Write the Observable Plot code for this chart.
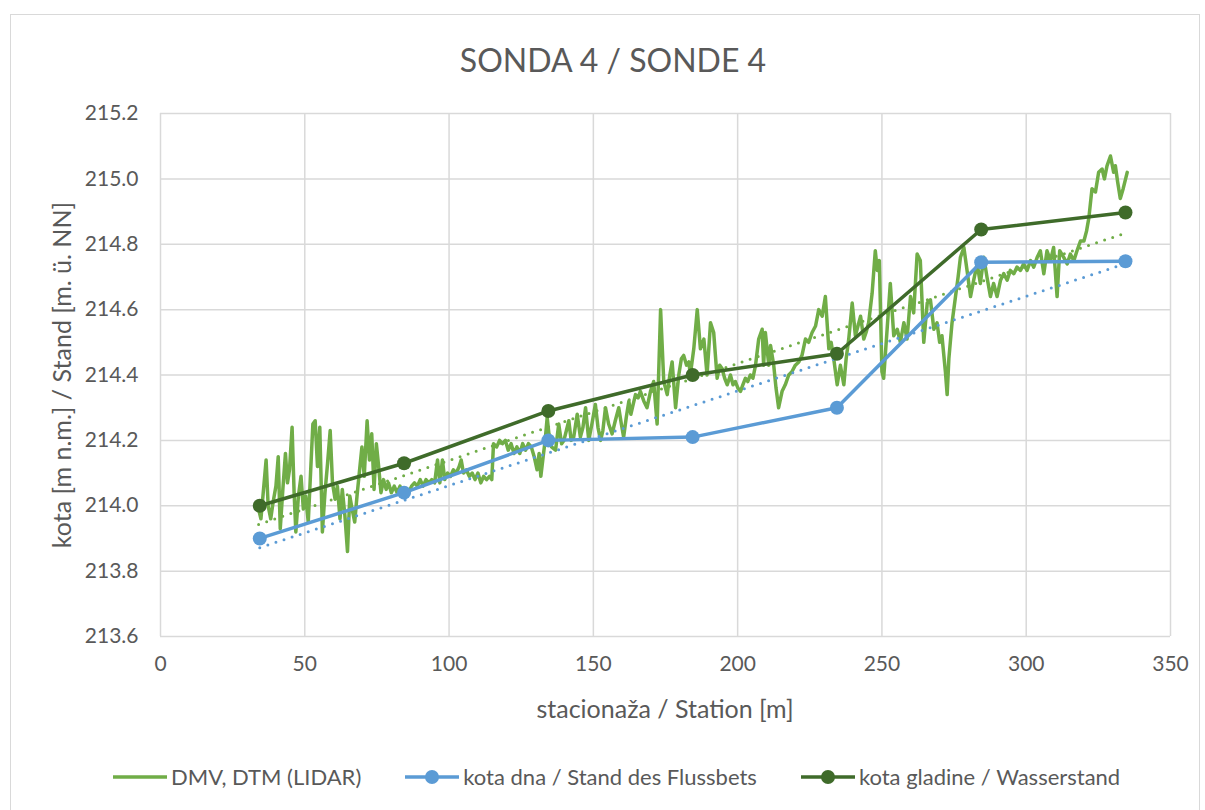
<!DOCTYPE html>
<html><head><meta charset="utf-8">
<script src="https://cdn.jsdelivr.net/npm/d3@7"></script>
<script src="https://cdn.jsdelivr.net/npm/@observablehq/plot@0.6"></script>
<style>
body{margin:0;background:#fff;font-family:Lato,"Open Sans",sans-serif;color:#595959;}
#wrap{position:relative;width:1205px;height:810px;overflow:hidden;background:#fff;}
#frame{position:absolute;left:10px;top:14px;width:1190px;height:830px;border:1.5px solid #d9d9d9;box-sizing:border-box;}
#chart{position:absolute;left:0;top:0;}
#title{position:absolute;top:60px;left:613px;transform:translate(-50%,-50%);white-space:nowrap;font-size:32px;line-height:1;color:#595959;}
#ylab{position:absolute;left:61px;top:375px;transform:translate(-50%,-50%) rotate(-90deg);white-space:nowrap;font-size:25px;line-height:1;color:#595959;}
#xlab{position:absolute;top:708px;left:665px;transform:translate(-50%,-50%);white-space:nowrap;font-size:25px;line-height:1;color:#595959;}
#legend{position:absolute;top:777px;left:113px;transform:translateY(-50%);display:flex;align-items:center;font-size:22px;line-height:1;color:#595959;white-space:nowrap;}
.item{display:flex;align-items:center;margin-right:44px;}
.item svg{margin-right:4px;}
</style>
</head><body>
<div id="wrap">
<div id="frame"></div>
<div id="chart"></div>
<div id="title">SONDA 4 / SONDE 4</div>
<div id="ylab">kota [m n.m.] / Stand [m. ü. NN]</div>
<div id="xlab">stacionaža / Station [m]</div>
<div id="legend"></div>
</div>
<script>
// Series names
const seriesNames = ["DMV, DTM (LIDAR)", "kota dna / Stand des Flussbets", "kota gladine / Wasserstand"];
const seriesColors = ["#70AD47", "#5B9BD5", "#3F6B2A"];

// Tick labels
const xTicks = [0, 50, 100, 150, 200, 250, 300, 350];
const yTicks = [213.6, 213.8, 214.0, 214.2, 214.4, 214.6, 214.8, 215.0, 215.2];

// DMV, DTM (LIDAR) profile
const dmvStation = [34.0,34.8,35.6,36.6,37.3,38.2,39.0,40.0,40.8,41.5,42.4,43.3,44.0,44.7,45.6,46.3,46.9,47.8,48.7,49.5,50.3,51.2,52.0,52.8,53.6,54.4,55.2,56.1,57.0,57.9,58.8,59.6,60.5,61.3,62.2,63.0,63.9,64.8,65.6,66.4,67.3,68.1,69.0,69.8,70.6,71.6,72.4,73.2,74.0,74.8,75.6,76.4,77.3,78.2,79.0,80.0,81.0,82.0,83.0,84.0,85.0,86.0,87.0,88.0,89.0,90.0,91.0,92.0,93.0,94.0,95.0,96.0,96.8,97.7,98.5,99.5,100.5,101.5,102.5,103.5,104.2,105.0,106.0,107.0,108.0,109.0,110.0,111.0,112.0,113.0,114.0,114.8,115.4,116.5,117.5,118.5,119.5,120.5,121.5,122.5,123.5,124.5,125.5,126.5,127.5,128.5,129.5,130.5,131.2,131.8,132.6,133.3,134.0,134.6,135.5,136.9,138.0,139.0,139.8,141.5,142.3,143.2,144.4,145.5,146.4,147.3,148.4,149.5,150.7,151.6,152.5,153.3,154.2,155.3,156.5,157.6,158.8,159.7,160.5,161.4,162.3,163.0,163.8,164.6,165.5,166.3,167.5,168.6,169.8,170.9,172.1,173.3,174.4,175.6,176.5,177.3,178.5,179.6,180.5,181.3,182.3,183.1,183.6,184.8,186.0,187.1,188.3,189.4,190.6,191.7,192.9,193.8,194.6,195.5,196.4,197.5,198.4,199.2,200.1,201.0,201.8,202.7,203.5,204.4,205.3,206.2,207.3,208.5,209.0,209.6,210.8,211.4,212.5,213.3,214.2,215.4,216.5,217.7,218.8,220.0,221.2,222.3,223.5,224.6,225.8,227.0,228.1,229.3,230.4,231.6,232.4,233.3,234.5,235.6,236.8,237.6,238.5,239.7,240.8,241.7,242.6,243.7,244.5,245.4,246.6,247.7,248.4,249.1,250.0,250.6,251.8,252.9,254.1,255.3,256.4,257.6,258.7,259.9,261.0,262.2,263.3,264.5,265.7,266.8,268.0,269.1,270.0,270.8,272.0,272.6,273.2,274.3,275.5,276.4,277.2,278.4,279.5,280.7,281.8,283.0,284.1,285.3,286.4,287.6,288.7,289.9,291.1,292.2,293.4,294.5,295.7,296.8,298.0,299.1,300.3,301.5,302.6,303.8,304.9,306.1,307.2,308.4,309.5,310.7,311.6,313.0,314.2,315.3,316.5,317.6,318.8,320.0,320.9,321.7,322.8,324.0,325.1,326.3,327.1,328.0,329.2,330.3,330.9,331.7,332.6,333.6,335.0];
const dmvElevation = [213.99,213.96,214.04,214.14,214.00,213.96,214.01,214.06,214.15,213.93,214.05,214.16,214.07,214.11,214.24,214.04,213.92,214.03,214.09,213.99,214.03,213.95,214.10,214.25,214.26,214.12,214.24,213.92,214.04,214.13,214.23,214.07,214.02,214.06,213.96,214.05,213.97,213.86,214.03,213.99,213.95,214.03,214.11,214.18,214.09,214.26,214.14,214.22,214.05,214.19,214.12,214.04,214.08,214.05,214.07,214.04,214.06,214.04,214.06,214.04,214.05,214.04,214.06,214.07,214.06,214.08,214.06,214.08,214.07,214.08,214.07,214.14,214.07,214.14,214.08,214.10,214.09,214.11,214.10,214.12,214.14,214.10,214.11,214.09,214.10,214.08,214.10,214.07,214.09,214.08,214.09,214.08,214.19,214.18,214.20,214.19,214.20,214.17,214.19,214.16,214.18,214.16,214.19,214.17,214.19,214.18,214.15,214.11,214.16,214.09,214.15,214.20,214.27,214.22,214.18,214.17,214.25,214.19,214.20,214.26,214.20,214.21,214.28,214.21,214.24,214.30,214.20,214.25,214.31,214.24,214.20,214.23,214.30,214.25,214.22,214.26,214.30,214.25,214.21,214.27,214.32,214.28,214.31,214.34,214.33,214.35,214.32,214.30,214.35,214.38,214.25,214.60,214.38,214.34,214.40,214.44,214.30,214.40,214.45,214.46,214.43,214.44,214.40,214.48,214.60,214.48,214.51,214.40,214.56,214.53,214.39,214.43,214.42,214.39,214.37,214.40,214.37,214.38,214.36,214.35,214.37,214.39,214.38,214.40,214.39,214.43,214.51,214.54,214.43,214.53,214.43,214.49,214.43,214.36,214.30,214.35,214.37,214.40,214.41,214.43,214.44,214.46,214.51,214.50,214.53,214.55,214.60,214.58,214.64,214.48,214.50,214.45,214.37,214.43,214.37,214.45,214.51,214.62,214.52,214.55,214.58,214.51,214.53,214.56,214.65,214.78,214.72,214.75,214.41,214.39,214.54,214.68,214.52,214.54,214.50,214.56,214.51,214.64,214.59,214.77,214.75,214.50,214.62,214.63,214.54,214.56,214.50,214.52,214.41,214.34,214.45,214.56,214.64,214.70,214.76,214.79,214.72,214.64,214.69,214.74,214.68,214.76,214.70,214.64,214.68,214.64,214.69,214.71,214.69,214.72,214.71,214.73,214.72,214.74,214.72,214.75,214.73,214.76,214.78,214.71,214.78,214.75,214.79,214.64,214.78,214.76,214.74,214.77,214.75,214.78,214.81,214.81,214.84,214.88,214.97,214.96,215.02,215.03,215.00,215.04,215.07,215.02,215.04,214.99,214.94,214.97,215.02];

// Survey points
const probeStation = [34.4, 84.4, 134.4, 184.4, 234.4, 284.4, 334.4];
const bedElevation = [213.90, 214.04, 214.20, 214.21, 214.30, 214.745, 214.748];
const waterElevation = [214.00, 214.13, 214.29, 214.40, 214.465, 214.845, 214.897];

const dmv = dmvStation.map((x, i) => ({x, y: dmvElevation[i]}));
const bed = probeStation.map((x, i) => ({x, y: bedElevation[i]}));
const water = probeStation.map((x, i) => ({x, y: waterElevation[i]}));

const font = "Lato, 'Open Sans', sans-serif";
const chart = Plot.plot({
  width: 1205,
  height: 740,
  marginLeft: 160,
  marginRight: 35,
  marginTop: 113,
  marginBottom: 104,
  style: {fontFamily: font, color: "#595959", background: "transparent"},
  x: {domain: [0, 350]},
  y: {domain: [213.6, 215.2]},
  marks: [
    Plot.gridX(xTicks, {stroke: "#d9d9d9", strokeOpacity: 1, strokeWidth: 1.5}),
    Plot.gridY(yTicks, {stroke: "#d9d9d9", strokeOpacity: 1, strokeWidth: 1.5}),
    Plot.axisX(xTicks, {tickSize: 0, tickPadding: 20, fontSize: 21, label: null, tickFormat: d => String(d)}),
    Plot.axisY(yTicks, {tickSize: 0, tickPadding: 22, fontSize: 21, label: null, tickFormat: d => d.toFixed(1)}),
    Plot.line(dmv, {x: "x", y: "y", stroke: seriesColors[0], strokeWidth: 3.5, strokeLinejoin: "round"}),
    Plot.linearRegressionY(dmv, {x: "x", y: "y", stroke: seriesColors[0], strokeWidth: 3, ci: 0, strokeDasharray: "0 8.5", strokeLinecap: "round"}),
    Plot.linearRegressionY(bed, {x: "x", y: "y", stroke: seriesColors[1], strokeWidth: 3, ci: 0, strokeDasharray: "0 8.5", strokeLinecap: "round"}),
    Plot.line(bed, {x: "x", y: "y", stroke: seriesColors[1], strokeWidth: 3.5}),
    Plot.dot(bed, {x: "x", y: "y", fill: seriesColors[1], r: 7}),
    Plot.line(water, {x: "x", y: "y", stroke: seriesColors[2], strokeWidth: 3.5}),
    Plot.dot(water, {x: "x", y: "y", fill: seriesColors[2], r: 7})
  ]
});
document.getElementById("chart").appendChild(chart);

const legend = document.getElementById("legend");
seriesNames.forEach((name, i) => {
  const item = document.createElement("div");
  item.className = "item";
  const marker = i === 0 ? "" : `<circle cx="27" cy="10" r="7" fill="${seriesColors[i]}"/>`;
  item.innerHTML = `<svg width="54" height="20"><line x1="0" x2="54" y1="10" y2="10" stroke="${seriesColors[i]}" stroke-width="3.5"/>${marker}</svg><span>${name}</span>`;
  legend.appendChild(item);
});
</script>
</body></html>
